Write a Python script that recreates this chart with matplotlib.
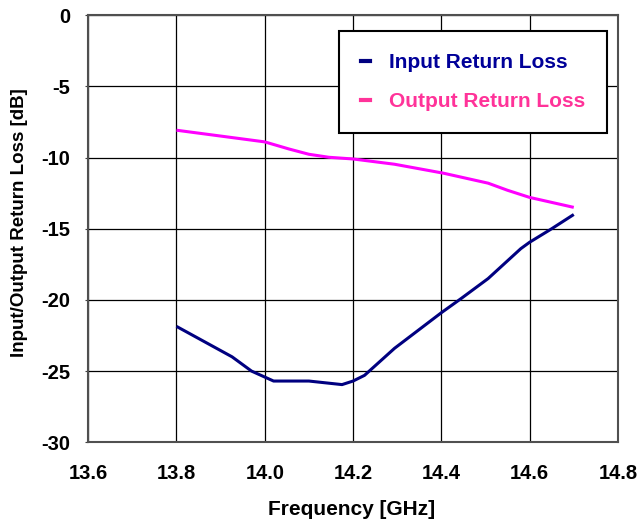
import matplotlib
matplotlib.use("Agg")
import matplotlib.pyplot as plt
from matplotlib.lines import Line2D

plt.rcParams['font.family'] = ['Liberation Sans', 'DejaVu Sans']
plt.rcParams['font.weight'] = 'bold'

# Input return loss
freq_in = [13.80, 13.926, 13.97, 14.02, 14.10, 14.13, 14.175, 14.20, 14.226,
           14.294, 14.40, 14.445, 14.506, 14.58, 14.60, 14.65, 14.70]
s11 = [-21.86, -24.0, -25.0, -25.7, -25.7, -25.8, -25.95, -25.7, -25.3,
       -23.4, -20.9, -19.9, -18.5, -16.4, -15.95, -15.0, -14.0]

# Output return loss
freq_out = [13.80, 14.00, 14.055, 14.10, 14.145, 14.20, 14.294, 14.405,
            14.506, 14.55, 14.60, 14.70]
s22 = [-8.08, -8.9, -9.4, -9.77, -9.98, -10.1, -10.47, -11.1,
       -11.8, -12.3, -12.8, -13.5]

xticks = [13.6, 13.8, 14.0, 14.2, 14.4, 14.6, 14.8]
yticks = [0, -5, -10, -15, -20, -25, -30]

fig = plt.figure(figsize=(6.39, 5.24), dpi=100)
ax = fig.add_axes([0.138, 0.156, 0.829, 0.815])

ax.plot(freq_in, s11, color='#000080', lw=2.2, solid_capstyle='butt')
ax.plot(freq_out, s22, color='#FF00FF', lw=2.2, solid_capstyle='butt')

ax.set_xlim(13.6, 14.8)
ax.set_ylim(-30, 0)
ax.set_xticks(xticks)
ax.set_yticks(yticks)
ax.set_xticklabels(['%.1f' % v for v in xticks])
ax.set_yticklabels(['%d' % v for v in yticks])
ax.tick_params(axis='x', labelsize=14.5, length=0, pad=16)
ax.tick_params(axis='y', labelsize=14.5, length=2.5, pad=10.5, color='#404040')
ax.grid(True, color='black', lw=0.9)
for sp in ax.spines.values():
    sp.set_color('#505050')
    sp.set_linewidth(1.5)

ax.set_xlabel('Frequency [GHz]', fontsize=15, fontweight='bold', va='center')
ax.xaxis.set_label_coords(0.498, -0.157)
ax.set_ylabel('Input/Output Return Loss [dB]', fontsize=13.5, fontweight='bold', va='center')
ax.yaxis.set_label_coords(-0.130, 0.515)

handles = [Line2D([], [], color='#000080', lw=3),
           Line2D([], [], color='#FF3399', lw=3)]
leg = ax.legend(handles, ['Input Return Loss', 'Output Return Loss'],
                loc='upper right', bbox_to_anchor=(0.979, 0.9625),
                fontsize=15, handlelength=0.45, handletextpad=0.9,
                labelspacing=0.95, borderpad=1.05, borderaxespad=0,
                fancybox=False, framealpha=1, edgecolor='black')
leg.get_frame().set_linewidth(1.5)
for t, c in zip(leg.get_texts(), ['#000099', '#FF3399']):
    t.set_color(c)
    t.set_fontweight('bold')

fig.savefig('out.png', dpi=100)
